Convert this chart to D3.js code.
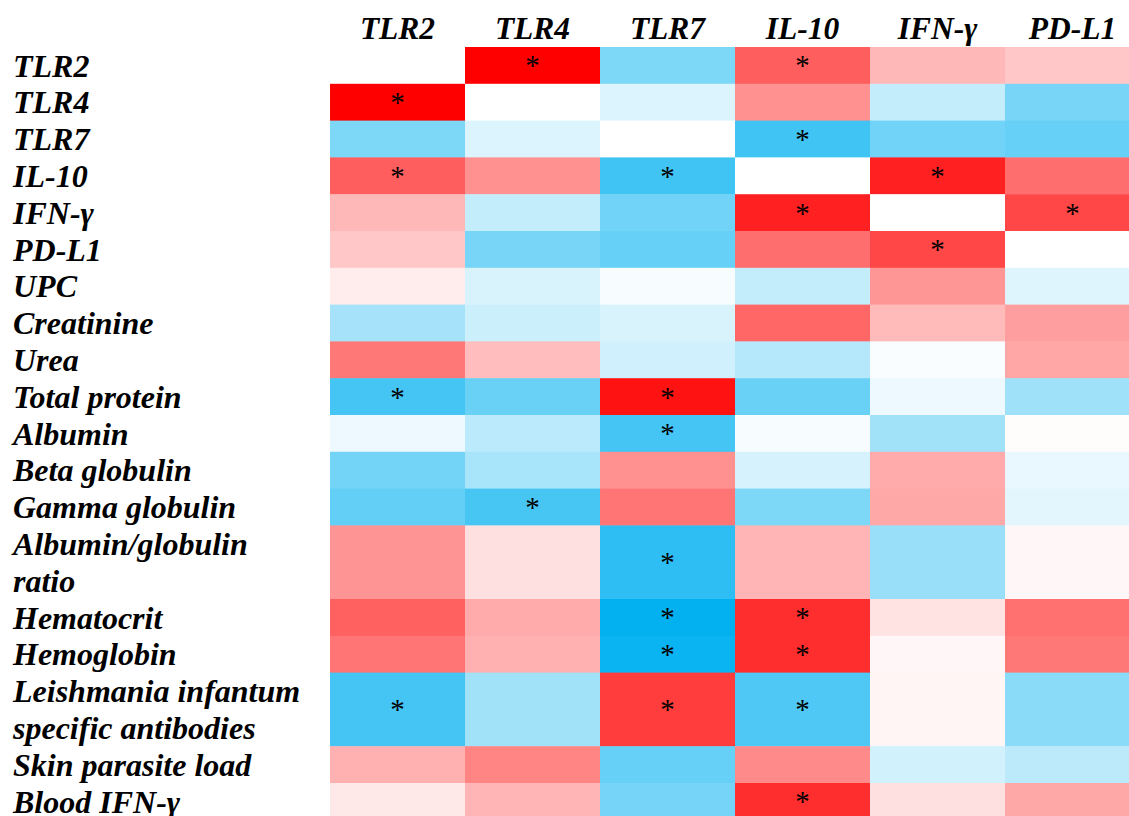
<!DOCTYPE html>
<html>
<head>
<meta charset="utf-8">
<script src="https://cdn.jsdelivr.net/npm/d3@7"></script>
<style>
  html, body { margin: 0; padding: 0; background: #fff; overflow: hidden; }
  svg { display: block; }
  text { font-family: "Liberation Serif", "Times New Roman", serif; }
</style>
</head>
<body>
<svg id="chart" width="1129" height="816"></svg>
<script>
// Column variables (immune markers)
const columns = ["TLR2", "TLR4", "TLR7", "IL-10", "IFN-\u03b3", "PD-L1"];

// Row variables; multi-line labels take one line per text row
const rowLabels = [
  ["TLR2"], ["TLR4"], ["TLR7"], ["IL-10"], ["IFN-\u03b3"], ["PD-L1"],
  ["UPC"], ["Creatinine"], ["Urea"], ["Total protein"], ["Albumin"],
  ["Beta globulin"], ["Gamma globulin"], ["Albumin/globulin", "ratio"],
  ["Hematocrit"], ["Hemoglobin"],
  ["Leishmania infantum", "specific antibodies"],
  ["Skin parasite load"], ["Blood IFN-\u03b3"]
];

// Correlation coefficients (rows x columns); null = same variable
const rho = [
  [ null,  1.00, -0.51,  0.63,  0.28,  0.22],
  [ 1.00,  null, -0.14,  0.43, -0.23, -0.53],
  [-0.51, -0.14,  null, -0.75, -0.56, -0.60],
  [ 0.63,  0.43, -0.75,  null,  0.87,  0.57],
  [ 0.28, -0.23, -0.56,  0.87,  null,  0.72],
  [ 0.22, -0.53, -0.60,  0.57,  0.72,  null],
  [ 0.07, -0.15, -0.03, -0.23,  0.41, -0.13],
  [-0.35, -0.20, -0.15,  0.60,  0.27,  0.38],
  [ 0.53,  0.26, -0.19, -0.29, -0.02,  0.35],
  [-0.73, -0.59,  0.93, -0.59, -0.07, -0.38],
  [-0.07, -0.27, -0.73, -0.03, -0.37,  0.01],
  [-0.55, -0.34,  0.43, -0.16,  0.33, -0.09],
  [-0.61, -0.72,  0.54, -0.51,  0.34, -0.11],
  [ 0.42,  0.12, -0.82,  0.29, -0.40,  0.03],
  [ 0.62,  0.33, -0.99,  0.82,  0.11,  0.56],
  [ 0.54,  0.31, -0.96,  0.82,  0.03,  0.53],
  [-0.73, -0.37,  0.76, -0.69,  0.04, -0.46],
  [ 0.31,  0.48, -0.60,  0.46, -0.18, -0.26],
  [ 0.09,  0.29, -0.54,  0.82,  0.12,  0.34]
];

// Statistically significant pairs (marked with *)
const significant = [
  [0, 1, 0, 1, 0, 0],
  [1, 0, 0, 0, 0, 0],
  [0, 0, 0, 1, 0, 0],
  [1, 0, 1, 0, 1, 0],
  [0, 0, 0, 1, 0, 1],
  [0, 0, 0, 0, 1, 0],
  [0, 0, 0, 0, 0, 0],
  [0, 0, 0, 0, 0, 0],
  [0, 0, 0, 0, 0, 0],
  [1, 0, 1, 0, 0, 0],
  [0, 0, 1, 0, 0, 0],
  [0, 0, 0, 0, 0, 0],
  [0, 1, 0, 0, 0, 0],
  [0, 0, 1, 0, 0, 0],
  [0, 0, 1, 1, 0, 0],
  [0, 0, 1, 1, 0, 0],
  [1, 0, 1, 1, 0, 0],
  [0, 0, 0, 0, 0, 0],
  [0, 0, 0, 1, 0, 0]
];

const svg = d3.select("#chart");
svg.append("rect").attr("width", 1129).attr("height", 816).attr("fill", "#fff");

// Layout
const gridLeft = 330, gridRight = 1140, gridTop = 47, lineH = 36.8;

const x = d3.scaleBand().domain(columns).range([gridLeft, gridRight]);

// Cumulative line offsets for each row
const spans = rowLabels.map(l => l.length);
const starts = d3.cumsum([0, ...spans]);
const totalLines = starts[starts.length - 1];
const y = d3.scaleLinear().domain([0, totalLines]).range([gridTop, gridTop + totalLines * lineH]);

// Diverging colour scale: blue (negative) – white – red (positive)
const color = d3.scaleLinear()
  .domain([-1, 0, 1])
  .range(["#00b0f0", "#ffffff", "#ff0000"])
  .interpolate(d3.interpolateRgb)
  .clamp(true);

const cells = [];
rowLabels.forEach((lab, i) => {
  columns.forEach((c, j) => {
    cells.push({ i, j, col: c, v: rho[i][j], sig: significant[i][j] });
  });
});

svg.append("g").selectAll("rect")
  .data(cells)
  .join("rect")
  .attr("x", d => x(d.col))
  .attr("y", d => y(starts[d.i]))
  .attr("width", x.bandwidth() + 0.5)
  .attr("height", d => y(starts[d.i + 1]) - y(starts[d.i]) + 0.5)
  .attr("fill", d => d.v === null ? "#ffffff" : color(d.v));

// Significance markers
svg.append("g").selectAll("text")
  .data(cells.filter(d => d.sig))
  .join("text")
  .attr("x", d => x(d.col) + x.bandwidth() / 2)
  .attr("y", d => (y(starts[d.i]) + y(starts[d.i + 1])) / 2 + 10)
  .attr("text-anchor", "middle")
  .attr("font-size", 29)
  .attr("fill", "#000")
  .text("*");

// Column headers
svg.append("g").selectAll("text")
  .data(columns)
  .join("text")
  .attr("x", d => x(d) + x.bandwidth() / 2)
  .attr("y", 39)
  .attr("text-anchor", "middle")
  .attr("font-size", 31.5)
  .attr("font-weight", "bold")
  .attr("font-style", "italic")
  .attr("fill", "#000")
  .text(d => d);

// Row labels
const gRows = svg.append("g");
rowLabels.forEach((lines, i) => {
  lines.forEach((t, k) => {
    gRows.append("text")
      .attr("x", 13)
      .attr("y", y(starts[i] + k) + 29.5)
      .attr("font-size", 32)
      .attr("font-weight", "bold")
      .attr("font-style", "italic")
      .attr("fill", "#000")
      .text(t);
  });
});
</script>
</body>
</html>
